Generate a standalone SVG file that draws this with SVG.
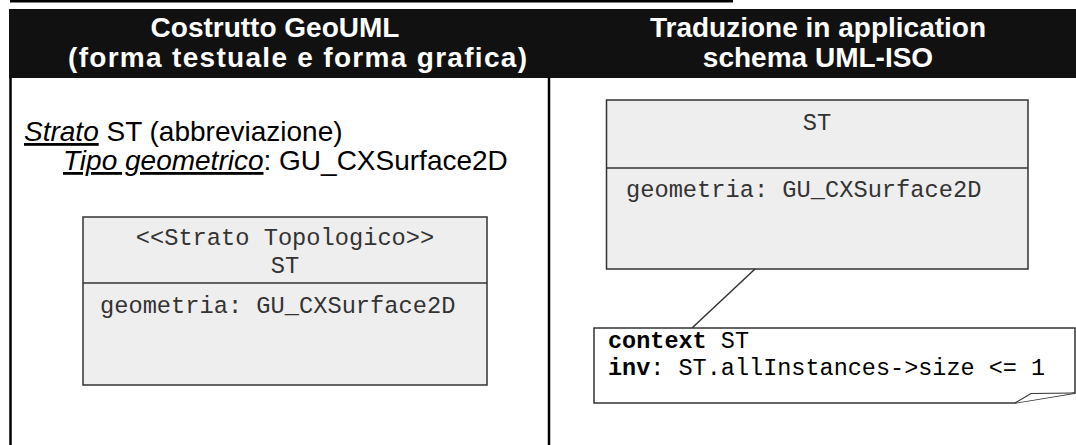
<svg xmlns="http://www.w3.org/2000/svg" width="1076" height="445" viewBox="0 0 1076 445">
<style>
.hdr{font-family:"Liberation Sans",Arial,sans-serif;font-size:28px;font-weight:bold;fill:#ffffff;text-anchor:middle}
.txt{font-family:"Liberation Sans",Arial,sans-serif;font-size:28px;fill:#000000}
.mono{font-family:"Liberation Mono","Courier New",monospace;font-size:23.7px;fill:#333333}
.note{font-family:"Liberation Mono","Courier New",monospace;font-size:23.5px;fill:#000000}
.box{fill:#eeeeee;stroke:#333333;stroke-width:1.5}
.sep{stroke:#333333;stroke-width:1.5}
.rule{stroke:#000000;stroke-width:2.5}
</style>
<rect x="0" y="0" width="1076" height="445" fill="#ffffff"/>
<g id="frame">
<rect x="10" y="0" width="723" height="2.5" fill="#000000"/>
<rect x="9" y="9" width="1067" height="69" fill="#111111"/>
<line class="rule" x1="10.5" y1="78" x2="10.5" y2="445"/>
<line class="rule" x1="549" y1="78" x2="549" y2="445"/>
<text class="hdr" x="275" y="37">Costrutto GeoUML</text>
<text class="hdr" x="297.5" y="67" textLength="459" lengthAdjust="spacing">(forma testuale e forma grafica)</text>
<text class="hdr" x="818" y="37">Traduzione in application</text>
<text class="hdr" x="818" y="67">schema UML-ISO</text>
</g>
<g id="geouml-text">
<text class="txt" x="24" y="141"><tspan font-style="italic" text-decoration="underline">Strato</tspan> ST (abbreviazione)</text>
<text class="txt" x="63" y="170"><tspan font-style="italic" text-decoration="underline">Tipo geometrico</tspan>: GU_CXSurface2D</text>
</g>
<g id="geouml-class">
<rect class="box" x="83" y="217" width="404" height="168"/>
<line class="sep" x1="83" y1="283" x2="487" y2="283"/>
<text class="mono" x="285" y="245" text-anchor="middle">&lt;&lt;Strato Topologico&gt;&gt;</text>
<text class="mono" x="285" y="273" text-anchor="middle">ST</text>
<text class="mono" x="100" y="313">geometria: GU_CXSurface2D</text>
</g>
<g id="iso-class">
<rect class="box" x="606.5" y="100" width="421.5" height="169"/>
<line class="sep" x1="606.5" y1="168" x2="1028" y2="168"/>
<text class="mono" x="817" y="130" text-anchor="middle">ST</text>
<text class="mono" x="626" y="197">geometria: GU_CXSurface2D</text>
</g>
<g id="connectors">
<line x1="755" y1="269" x2="692" y2="328" stroke="#333333" stroke-width="1.5"/>
</g>
<g id="ocl-note">
<path d="M594,328 H1075 V393 L1015,403 H594 Z" fill="#ffffff" stroke="#333333" stroke-width="1.5"/>
<path d="M1015,403 L1031,393.5 L1075,393" fill="#ffffff" stroke="#333333" stroke-width="1.2"/>
<text class="note" x="608" y="348"><tspan font-weight="bold">context</tspan> ST</text>
<text class="note" x="608" y="375"><tspan font-weight="bold">inv</tspan>: ST.allInstances-&gt;size &lt;= 1</text>
</g>
</svg>
